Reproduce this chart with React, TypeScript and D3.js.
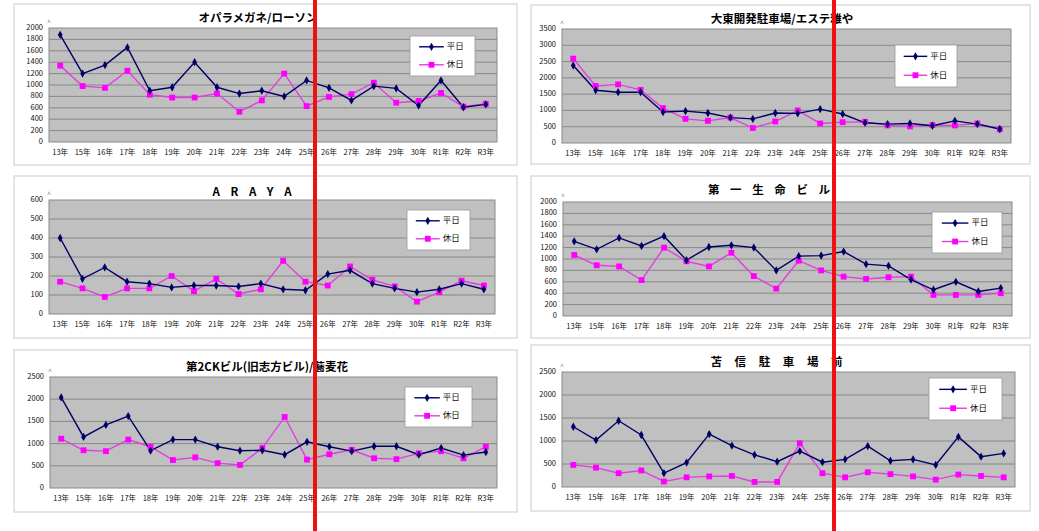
import React from "react";
import * as d3 from "d3";

const categories = ["13年","15年","16年","17年","18年","19年","20年","21年","22年","23年","24年","25年","26年","27年","28年","29年","30年","R1年","R2年","R3年"];
const seriesNames = ["平日", "休日"];

const titles = ["オパラメガネ/ローソン", "大東開発駐車場/エステ雅や", "A R A Y A", "第 一 生 命 ビ ル", "第2CKビル(旧志方ビル)/蕎麦花", "苫 信 駐 車 場 前"];
const yMaxes = [2000, 3500, 600, 2000, 2500, 2500];
const ySteps = [200, 500, 100, 200, 500, 500];

const weekday1 = [1880,1200,1350,1660,900,960,1400,960,850,900,800,1080,950,730,980,940,640,1080,610,660];
const holiday1 = [1340,980,950,1250,830,780,780,850,530,730,1200,630,790,840,1040,690,720,860,620,670];
const weekday2 = [2380,1620,1560,1560,950,980,920,780,740,920,910,1040,890,620,580,600,530,680,580,430];
const holiday2 = [2590,1750,1800,1630,1070,740,680,780,460,660,1000,600,640,650,540,510,550,540,600,420];
const weekday3 = [400,185,245,170,160,140,150,150,145,160,130,125,210,230,160,135,115,130,160,130];
const holiday3 = [170,135,90,135,135,200,120,185,105,130,280,170,150,250,180,145,65,115,175,150];
const weekday4 = [1310,1170,1370,1230,1400,980,1210,1240,1200,800,1050,1060,1130,910,880,640,460,600,430,490];
const holiday4 = [1070,890,870,630,1200,960,870,1110,700,480,970,800,690,650,680,690,370,370,370,400];
const weekday5 = [2040,1150,1420,1620,840,1090,1090,930,840,850,750,1040,930,830,940,940,750,900,740,810];
const holiday5 = [1110,850,830,1090,930,630,690,560,520,900,1600,640,760,860,670,650,780,830,670,930];
const weekday6 = [1310,1020,1440,1130,300,530,1150,900,700,550,780,540,600,890,570,600,480,1090,660,730];
const holiday6 = [480,420,300,360,120,210,230,240,110,110,950,300,210,320,280,230,160,270,240,210];

const weekdays = [weekday1, weekday2, weekday3, weekday4, weekday5, weekday6];
const holidays = [holiday1, holiday2, holiday3, holiday4, holiday5, holiday6];

type Box = { x: number; y: number; w: number; h: number };
const frames: Box[] = [
  { x: 14, y: 4, w: 503, h: 161 },
  { x: 531, y: 5, w: 499, h: 159 },
  { x: 14, y: 176, w: 503, h: 162 },
  { x: 531, y: 176, w: 499, h: 162 },
  { x: 14, y: 350, w: 503, h: 162 },
  { x: 531, y: 345, w: 499, h: 166 },
];
const plots: Box[] = [
  { x: 49, y: 28, w: 448, h: 114 },
  { x: 562, y: 29, w: 449, h: 114 },
  { x: 49, y: 200, w: 446, h: 114 },
  { x: 563, y: 202, w: 449, h: 114 },
  { x: 50, y: 377, w: 447, h: 111 },
  { x: 562, y: 372, w: 453, h: 115 },
];
const legends: Box[] = [
  { x: 410, y: 36, w: 65, h: 40 },
  { x: 895, y: 45, w: 62, h: 42 },
  { x: 407, y: 210, w: 63, h: 40 },
  { x: 932, y: 212, w: 70, h: 41 },
  { x: 405, y: 387, w: 67, h: 40 },
  { x: 929, y: 378, w: 73, h: 42 },
];
const titleY = [19, 20, 193, 191, 368, 363];
const titleX = [258, 782, 254, 771, 267, 779];
const titleSpacing = [0, 0, 4, 4, 0, 5];
const redLines = [315, 834];

const NAVY = "#000066";
const MAGENTA = "#ff00ff";
const FONT = "'Noto Sans CJK JP', 'Noto Sans', sans-serif";

function Panel({ i }: { i: number }) {
  const f = frames[i];
  const p = plots[i];
  const lg = legends[i];
  const x = d3.scaleBand<string>().domain(categories).range([p.x, p.x + p.w]);
  const y = d3.scaleLinear().domain([0, yMaxes[i]]).range([p.y + p.h, p.y]);
  const ticks = d3.range(0, yMaxes[i] + 1, ySteps[i]);
  const cx = (c: string) => (x(c) as number) + x.bandwidth() / 2;
  const line = d3.line<number>().x((_, k) => cx(categories[k])).y((v) => y(v));
  const wd = weekdays[i];
  const hd = holidays[i];
  const diamond = d3.symbol().type(d3.symbolDiamond).size(20)() as string;
  const square = d3.symbol().type(d3.symbolSquare).size(34)() as string;
  return (
    <g>
      <rect x={f.x} y={f.y} width={f.w} height={f.h} fill="#fff" stroke="#dcdcdc" strokeWidth={1.5} />
      <text x={titleX[i]} y={titleY[i]} textAnchor="middle" dominantBaseline="middle" fontFamily={FONT} fontWeight="bold" fontSize={11.5} letterSpacing={titleSpacing[i]} fill="#000">{titles[i]}</text>
      <rect x={p.x} y={p.y} width={p.w} height={p.h} fill="#c0c0c0" stroke="#8a8a8a" strokeWidth={1} />
      {ticks.map((t) => (
        <g key={t}>
          {t > 0 && t < yMaxes[i] && <line x1={p.x} x2={p.x + p.w} y1={y(t)} y2={y(t)} stroke="#7a7a7a" strokeWidth={0.8} />}
          <text x={p.x - 6} y={y(t)} textAnchor="end" dominantBaseline="middle" fontFamily={FONT} fontSize={7.5} fill="#111">{t}</text>
        </g>
      ))}
      <text x={p.x - 2} y={p.y - 5} fontFamily={FONT} fontSize={4} fill="#333">人</text>
      {categories.map((c) => (
        <text key={c} x={cx(c)} y={p.y + p.h + 11} textAnchor="middle" dominantBaseline="middle" fontFamily={FONT} fontSize={7.5} fill="#111">{c}</text>
      ))}
      <path d={line(hd) as string} fill="none" stroke="#e040e0" strokeWidth={1.4} />
      <path d={line(wd) as string} fill="none" stroke={NAVY} strokeWidth={1.4} />
      {hd.map((v, k) => (
        <path key={"h" + k} d={square} transform={`translate(${cx(categories[k])},${y(v)})`} fill={MAGENTA} />
      ))}
      {wd.map((v, k) => (
        <path key={"w" + k} d={diamond} transform={`translate(${cx(categories[k])},${y(v)})`} fill={NAVY} />
      ))}
      <rect x={lg.x} y={lg.y} width={lg.w} height={lg.h} fill="#fff" stroke="#999" strokeWidth={0.8} />
      {seriesNames.map((s, k) => {
        const ly = lg.y + lg.h * (k === 0 ? 0.27 : 0.72);
        const lx0 = lg.x + lg.w * 0.14;
        const lx1 = lg.x + lg.w * 0.52;
        return (
          <g key={s}>
            <line x1={lx0} x2={lx1} y1={ly} y2={ly} stroke={k === 0 ? NAVY : "#e040e0"} strokeWidth={1.4} />
            <path d={k === 0 ? diamond : square} transform={`translate(${(lx0 + lx1) / 2},${ly})`} fill={k === 0 ? NAVY : MAGENTA} />
            <text x={lx1 + 3} y={ly} dominantBaseline="middle" fontFamily={FONT} fontSize={8.5} fill="#111">{s}</text>
          </g>
        );
      })}
    </g>
  );
}

export default function App() {
  return (
    <svg width={1039} height={531} style={{ position: "absolute", left: 0, top: 0, background: "#fff" }}>
      <rect x={0} y={0} width={1039} height={531} fill="#fff" />
      {frames.map((_, i) => <Panel key={i} i={i} />)}
      {redLines.map((rx) => (
        <rect key={rx} x={rx - 2} y={0} width={4} height={531} fill="#ee1111" />
      ))}
    </svg>
  );
}
